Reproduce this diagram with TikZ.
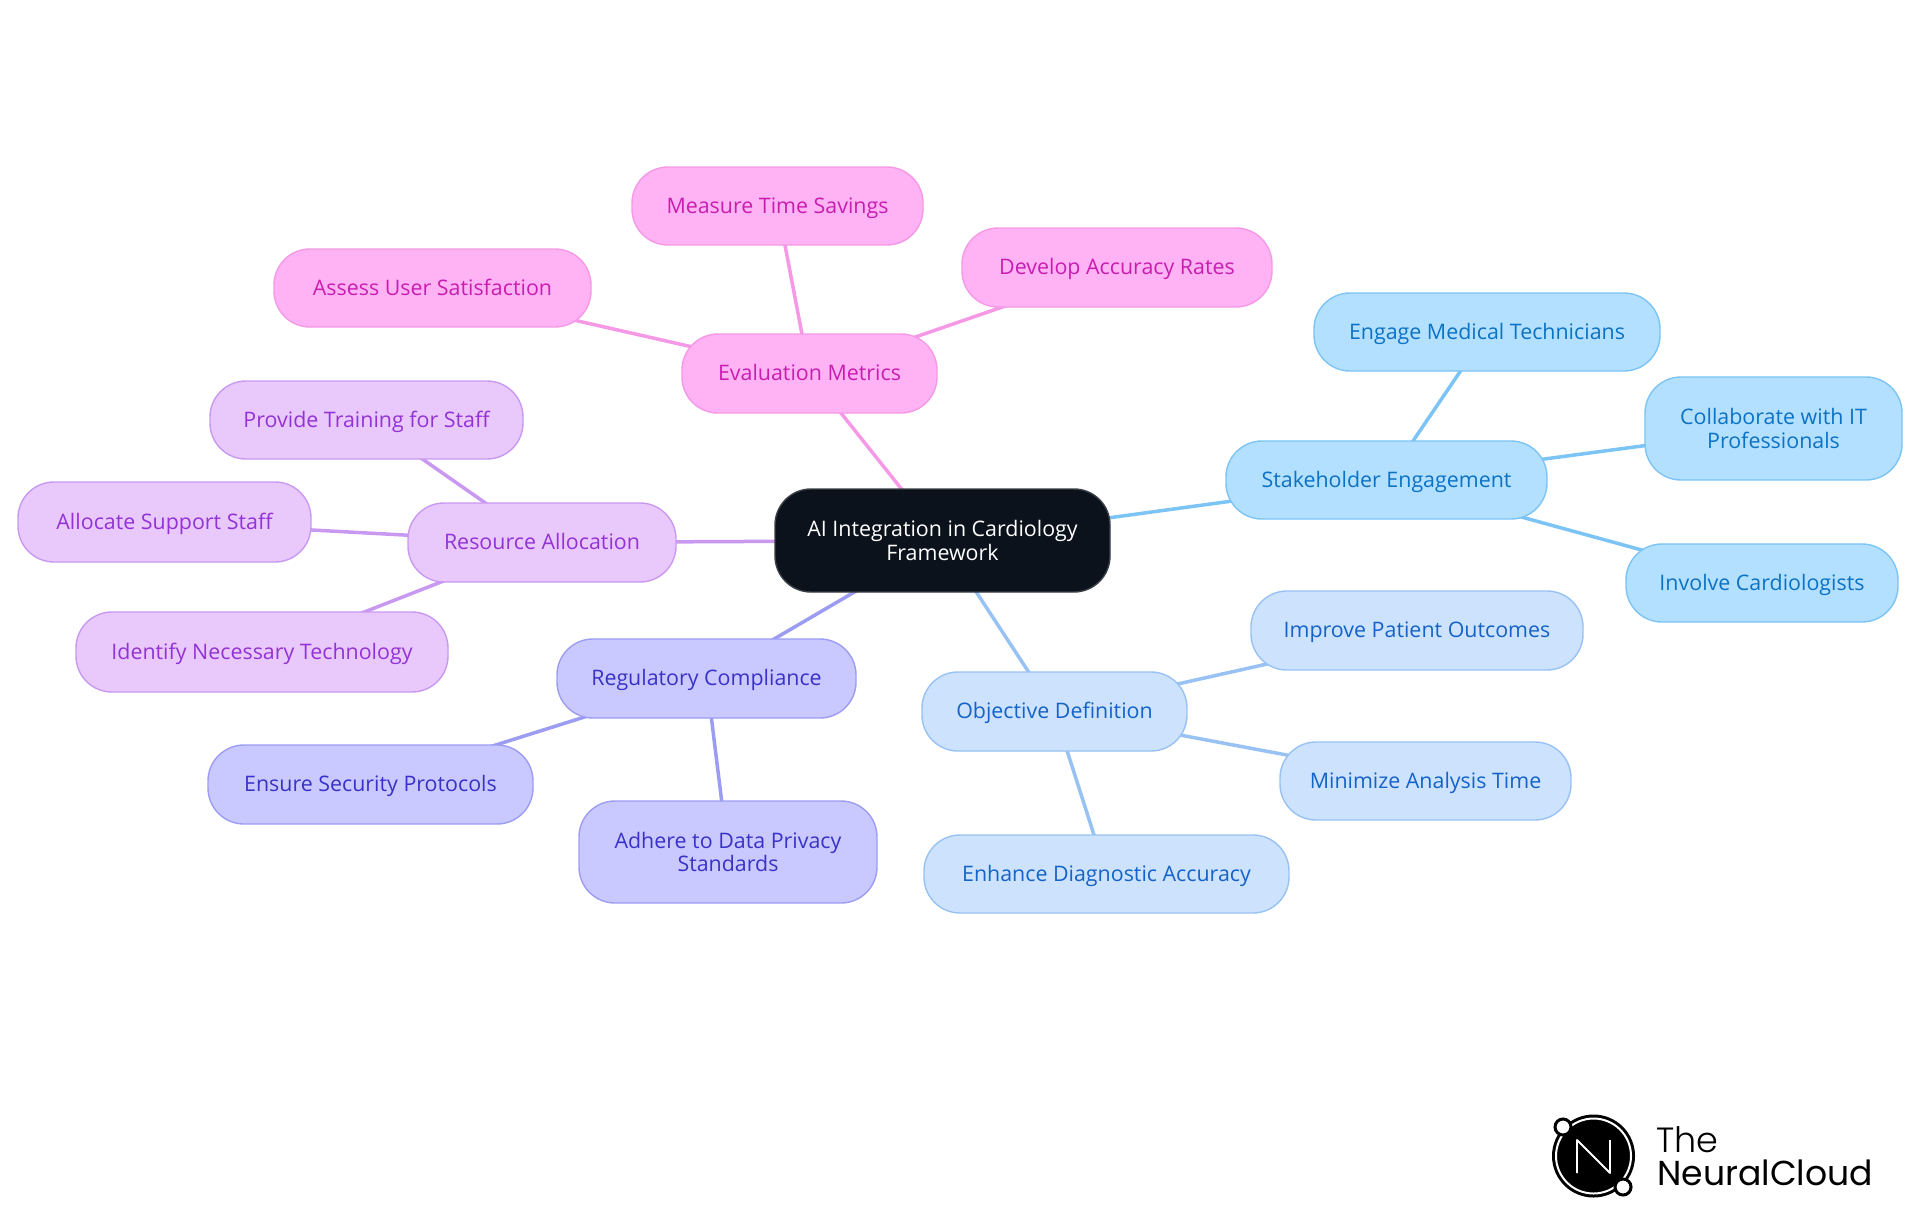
\documentclass[tikz,border=0pt]{standalone}
\usepackage{fontspec}
\setmainfont{Open Sans}
\newfontfamily\logofont{Poppins}[UprightFont=* Light]
\newfontfamily\logobold{Poppins}
\usetikzlibrary{backgrounds}
\definecolor{rootfill}{HTML}{0B121B}
\definecolor{rootline}{HTML}{3A4048}
\definecolor{skyfill}{HTML}{B3E0FF}
\definecolor{skyline}{HTML}{7CC4F5}
\definecolor{skytext}{HTML}{0C72C4}
\definecolor{bluefill}{HTML}{CCE2FD}
\definecolor{blueline}{HTML}{98C2F3}
\definecolor{bluetext}{HTML}{1563C8}
\definecolor{indfill}{HTML}{C9C9FF}
\definecolor{indline}{HTML}{9C9CF3}
\definecolor{indtext}{HTML}{3A32C8}
\definecolor{purfill}{HTML}{E9C9FC}
\definecolor{purline}{HTML}{C999F1}
\definecolor{purtext}{HTML}{9333D6}
\definecolor{pinkfill}{HTML}{FFB3F5}
\definecolor{pinkline}{HTML}{F599E6}
\definecolor{pinktext}{HTML}{C81EB0}
\tikzset{
    x=0.5pt, y=-0.5pt,
    mapnode/.style={rounded corners=18pt, line width=0.7pt, align=center, inner sep=0pt,
        font=\fontsize{10.7}{11.6}\selectfont},
    single/.style={execute at begin node={\rule{0pt}{10.7pt}}, execute at end node={\rule[-3.6pt]{0pt}{3.6pt}}},
    sky/.style={mapnode, draw=skyline, fill=skyfill, text=skytext},
    blue/.style={mapnode, draw=blueline, fill=bluefill, text=bluetext},
    ind/.style={mapnode, draw=indline, fill=indfill, text=indtext},
    pur/.style={mapnode, draw=purline, fill=purfill, text=purtext},
    pink/.style={mapnode, draw=pinkline, fill=pinkfill, text=pinktext},
    rootnode/.style={mapnode, draw=rootline, fill=rootfill, text=white},
    link/.style={line width=1.75pt},
    logodot/.style={circle, fill=white, draw=black, line width=1.5pt, minimum size=8pt, inner sep=0pt},
}
\newcommand{\mapbox}[7]{% style, name, left, top, right, bottom, text
    \node[#1, minimum width={(#5-#3)*0.5pt}, minimum height={(#6-#4)*0.5pt}] (#2) at ({(#3+#5)/2},{(#4+#6)/2}) {#7};
}
\begin{document}
\begin{tikzpicture}
    \useasboundingbox (0,0) rectangle (1920,1215);
    \mapbox{rootnode}{ai}{775}{489}{1110}{592}{AI Integration in Cardiology\\Framework}
    % stakeholders
    \mapbox{sky,single}{stake}{1226}{441}{1547}{519}{Stakeholder Engagement}
    \mapbox{sky,single}{tech}{1314}{293}{1660}{371}{Engage Medical Technicians}
    \mapbox{sky}{itpro}{1645}{377}{1902}{480}{Collaborate with IT\\Professionals}
    \mapbox{sky,single}{cardio}{1626}{544}{1898}{622}{Involve Cardiologists}
    % objectives
    \mapbox{blue,single}{objective}{922}{672}{1187}{751}{Objective Definition}
    \mapbox{blue,single}{outcomes}{1251}{591}{1583}{670}{Improve Patient Outcomes}
    \mapbox{blue,single}{analysis}{1280}{742}{1571}{820}{Minimize Analysis Time}
    \mapbox{blue,single}{accuracy}{924}{835}{1289}{913}{Enhance Diagnostic Accuracy}
    % regulation
    \mapbox{ind,single}{regulatory}{557}{639}{856}{718}{Regulatory Compliance}
    \mapbox{ind,single}{security}{208}{745}{533}{824}{Ensure Security Protocols}
    \mapbox{ind}{privacy}{579}{801}{877}{903}{Adhere to Data Privacy\\Standards}
    % resources
    \mapbox{pur,single}{resource}{408}{503}{676}{582}{Resource Allocation}
    \mapbox{pur,single}{training}{210}{381}{523}{459}{Provide Training for Staff}
    \mapbox{pur,single}{support}{18}{482}{311}{562}{Allocate Support Staff}
    \mapbox{pur,single}{technology}{76}{612}{448}{692}{Identify Necessary Technology}
    % metrics
    \mapbox{pink,single}{metrics}{682}{334}{937}{413}{Evaluation Metrics}
    \mapbox{pink,single}{savings}{632}{167}{923}{245}{Measure Time Savings}
    \mapbox{pink,single}{satisfaction}{274}{249}{591}{327}{Assess User Satisfaction}
    \mapbox{pink,single}{rates}{962}{228}{1272}{307}{Develop Accuracy Rates}
    \begin{scope}[on background layer]
        \foreach \a/\b/\c in {ai/stake/skyline, stake/tech/skyline, stake/itpro/skyline, stake/cardio/skyline,
            ai/objective/blueline, objective/outcomes/blueline, objective/analysis/blueline, objective/accuracy/blueline,
            ai/regulatory/indline, regulatory/security/indline, regulatory/privacy/indline,
            ai/resource/purline, resource/training/purline, resource/support/purline, resource/technology/purline,
            ai/metrics/pinkline, metrics/savings/pinkline, metrics/satisfaction/pinkline, metrics/rates/pinkline} {
            \draw[link, \c] (\a.center) -- (\b.center);
        }
    \end{scope}
    % logo
    \node[circle, fill=black, minimum size=41.5pt, inner sep=0pt] (logo) at (1593.5,1156) {};
    \draw[white, line width=1pt] (logo) circle (18.75pt);
    \draw[white, line width=0.9pt, line join=round] (1577,1173) -- (1577,1140) -- (1610,1173) -- (1610,1140);
    \node[logodot] (dota) at (1563,1127) {};
    \node[logodot] (dotb) at (1623,1187) {};
    \node[anchor=base west, inner sep=0pt, font=\logofont\fontsize{17.5}{17.5}\selectfont] (the) at (1656,1152) {The};
    \node[anchor=base west, inner sep=0pt, font=\logobold\fontsize{17.3}{17.5}\selectfont] (cloud) at (1657,1185) {NeuralCloud};
\end{tikzpicture}
\end{document}
